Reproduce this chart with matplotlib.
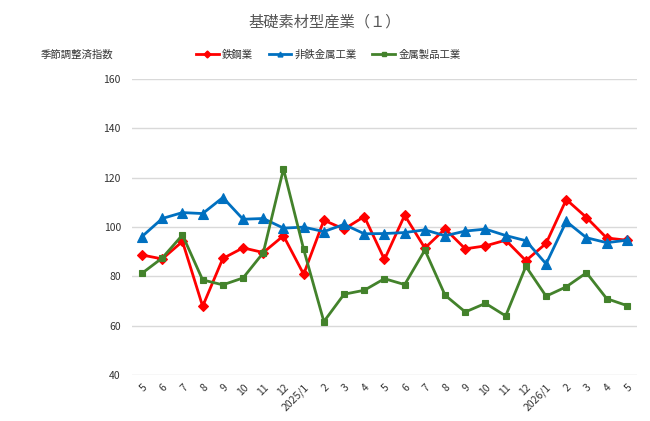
import matplotlib
matplotlib.use("Agg")
import matplotlib.pyplot as plt
from matplotlib.lines import Line2D

plt.rcParams['font.family'] = ['Noto Sans CJK JP', 'DejaVu Sans']

categories = ["5", "6", "7", "8", "9", "10", "11", "12", "2025/1", "2", "3", "4",
              "5", "6", "7", "8", "9", "10", "11", "12", "2026/1", "2", "3", "4", "5"]

steel = [88.7, 87.1, 94.2, 67.9, 87.3, 91.6, 89.7, 96.5, 80.9, 102.8, 99.2, 104.3,
         86.9, 104.8, 91.5, 99.3, 91.2, 92.4, 94.7, 86.4, 93.4, 111.2, 103.9, 95.6, 94.7]
nonferrous = [96.2, 103.5, 105.9, 105.5, 112.0, 103.2, 103.5, 99.6, 100.0, 98.2, 101.1, 97.3,
              97.4, 97.8, 98.9, 96.5, 98.4, 99.2, 96.6, 94.5, 85.1, 102.3, 95.7, 93.7, 94.7]
metal_products = [81.3, 87.5, 96.8, 78.6, 76.6, 79.4, 89.6, 123.6, 91.0, 61.7, 72.8, 74.4,
                  79.1, 76.7, 90.7, 72.4, 65.6, 69.1, 64.0, 84.1, 72.0, 75.8, 81.5, 71.0, 68.2]

series_names = ["鉄鋼業", "非鉄金属工業", "金属製品工業"]
colors = ["#FF0000", "#0070C0", "#43822B"]
markers = ["D", "^", "s"]
msizes = [5.5, 7, 5]

fig = plt.figure(figsize=(6.5, 4.21), dpi=100)
ax = fig.add_axes([0.203, 0.109, 0.777, 0.703])

x = list(range(len(categories)))
for vals, name, c, m, ms in zip([steel, nonferrous, metal_products], series_names, colors, markers, msizes):
    ax.plot(x, vals, color=c, lw=2, marker=m, markersize=ms, markeredgecolor=c,
            markeredgewidth=0.8, label=name, zorder=3)

ax.set_xlim(-0.5, len(categories) - 0.5)
ax.set_ylim(40, 160)
ax.set_yticks(range(40, 161, 20))
ax.grid(axis='y', color='#D9D9D9', lw=1)
ax.set_axisbelow(True)
for s in ax.spines.values():
    s.set_visible(False)
ax.tick_params(axis='both', length=0, labelsize=7.5, colors='#333333')
ax.tick_params(axis='y', pad=8)
ax.tick_params(axis='x', pad=5)
ax.set_xticks(x)
ax.set_xticklabels(categories, rotation=45, ha='right', rotation_mode='anchor')

fig.text(0.5, 0.948, "基礎素材型産業（１）", ha='center', va='center', fontsize=11, color='#555555')
fig.text(0.062, 0.87, "季節調整済指数", ha='left', va='center', fontsize=7.5, color='#333333')

handles = [Line2D([0], [0], color=c, lw=2, marker=m, markersize=3.5) for c, m in zip(colors, markers)]
fig.legend(handles, series_names, loc='center', bbox_to_anchor=(0.505, 0.87), ncol=3, frameon=False,
           fontsize=7.5, handlelength=2.2, handletextpad=0.3, columnspacing=1.5,
           labelcolor='#333333')

fig.savefig("out.png", dpi=100)
